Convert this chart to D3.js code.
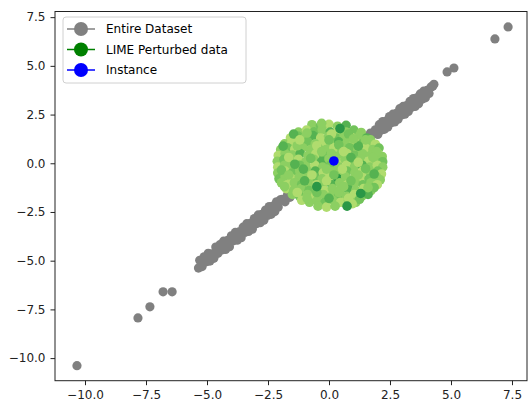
<!DOCTYPE html>
<html>
<head>
<meta charset="utf-8">
<script src="https://cdn.jsdelivr.net/npm/d3@7"></script>
<style>
  html, body { margin: 0; padding: 0; background: #fff; }
  svg { display: block; font-family: "DejaVu Sans", sans-serif; }
</style>
</head>
<body>
<svg id="chart" width="528" height="406"></svg>
<script>
// Axis ticks
const xTicks = [-10, -7.5, -5, -2.5, 0, 2.5, 5, 7.5];
const yTicks = [-10, -7.5, -5, -2.5, 0, 2.5, 5, 7.5];

// Legend entries
const seriesNames = ["Entire Dataset", "LIME Perturbed data", "Instance"];
const seriesColors = ["#808080", "#008000", "#0000ff"];

// Entire dataset: [x, y]
const datasetPoints = [
  [-10.33,-10.39],[-7.83,-7.94],[-7.34,-7.37],[-6.80,-6.60],[-6.43,-6.60],
  [-5.35,-5.38],[-5.30,-4.98],[-5.20,-5.30],[-5.12,-4.80],[-5.02,-5.05],[-4.95,-4.62],
  [-4.88,-5.02],[-4.80,-4.65],[-4.72,-4.88],[-4.64,-4.30],[-4.55,-4.62],[-4.47,-4.18],
  [-4.40,-4.45],[-4.32,-4.00],[-4.24,-4.42],[-4.15,-3.95],[-4.08,-4.28],[-4.00,-3.72],
  [-3.92,-3.98],[-3.84,-3.55],[-3.76,-3.95],[-3.68,-3.52],[-3.60,-3.82],[-3.52,-3.28],
  [-3.45,-3.55],[-3.37,-3.10],[-3.30,-3.50],[-3.22,-3.08],[-3.14,-3.38],[-3.06,-2.84],
  [-2.98,-3.10],[-2.90,-2.65],[-2.82,-3.05],[-2.75,-2.62],[-2.67,-2.92],[-2.60,-2.40],
  [-2.52,-2.68],[-2.45,-2.22],[-2.37,-2.62],[-2.30,-2.20],[-2.22,-2.48],[-2.15,-1.98],
  [-2.08,-2.25],[-2.00,-1.88],
  [-5.05,-4.95],[-4.60,-4.48],[-4.10,-4.05],[-3.70,-3.65],[-3.25,-3.25],[-2.80,-2.82],[-2.40,-2.42],
  [-1.92,-1.85],[-1.80,-1.98],[-1.70,-1.62],[-1.60,-1.75],[-1.50,-1.42],[-1.40,-1.55],
  [-1.30,-1.25],[-1.20,-1.32],[-1.10,-1.05],[-1.00,-1.15],[-0.90,-0.85],[-0.80,-0.95],
  [-0.70,-0.62],[-0.60,-0.75],[-0.50,-0.48],[-0.40,-0.55],[-0.30,-0.28],[-0.20,-0.35],
  [-0.10,-0.08],[0.00,-0.18],[0.10,0.05],[0.20,-0.05],[0.30,0.22],[0.40,0.15],
  [0.50,0.42],[0.60,0.35],[0.70,0.62],[0.80,0.55],[0.90,0.80],[1.00,0.75],
  [1.10,1.00],[1.20,0.95],[1.30,1.18],[1.40,1.12],[1.50,1.38],[1.60,1.32],
  [1.70,1.55],[1.80,1.50],[1.90,1.72],
  [2.00,1.48],[2.06,1.98],[2.13,1.70],[2.20,2.14],[2.27,1.74],[2.34,2.16],[2.41,1.86],
  [2.48,2.40],[2.55,2.08],[2.62,2.52],[2.69,2.12],[2.76,2.56],[2.83,2.26],[2.90,2.80],
  [2.97,2.48],[3.04,2.92],[3.11,2.52],[3.18,2.96],[3.25,2.66],[3.32,3.18],[3.39,2.88],
  [3.46,3.32],[3.53,2.92],[3.60,3.36],[3.67,3.06],[3.74,3.56],[3.81,3.28],[3.88,3.70],
  [3.95,3.36],[4.02,3.74],[4.10,3.58],[4.18,3.92],[4.25,3.95],[4.30,4.05],
  [2.30,1.98],[2.70,2.36],[3.10,2.75],[3.50,3.12],[3.90,3.50],
  [4.84,4.69],[5.12,4.89],[6.80,6.38],[7.34,7.00]
];

// Perturbed samples: [x, y, weight shade 0..4]
const perturbedPoints = [
  [-0.7,1.98,1],[-0.35,1.92,2],[0.0,2.0,0],[0.35,1.9,1],[0.7,1.95,3],
  [-1.25,1.6,1],[-0.92,1.7,0],[-0.6,1.62,2],[-0.28,1.72,1],[0.05,1.6,3],[0.38,1.68,0],[0.7,1.6,1],[1.02,1.7,2],[1.32,1.58,1],
  [-1.58,1.3,0],[-1.28,1.4,2],[-0.98,1.32,1],[-0.66,1.42,3],[-0.34,1.3,0],[-0.02,1.38,1],[0.3,1.3,2],[0.62,1.4,1],[0.94,1.32,0],[1.26,1.42,1],[1.55,1.3,3],[1.7,1.2,1],
  [-1.82,1.0,1],[-1.52,1.1,0],[-1.2,1.02,1],[-0.88,1.12,2],[-0.56,1.0,1],[-0.24,1.08,0],[0.08,1.0,1],[0.4,1.1,3],[0.72,1.02,1],[1.04,1.1,0],[1.36,1.0,2],[1.66,1.08,1],[1.9,0.98,0],
  [-1.98,0.7,1],[-1.7,0.8,2],[-1.4,0.72,0],[-1.08,0.8,1],[-0.76,0.7,1],[-0.44,0.78,2],[-0.12,0.7,1],[0.2,0.8,0],[0.52,0.72,1],[0.85,0.8,2],[1.18,0.7,1],[1.5,0.78,0],[1.8,0.7,1],[2.05,0.78,2],
  [-2.08,0.4,0],[-1.8,0.5,1],[-1.5,0.42,1],[-1.18,0.5,3],[-0.86,0.4,1],[-0.54,0.48,0],[-0.22,0.4,2],[0.1,0.5,1],[0.42,0.42,1],[0.74,0.5,0],[1.06,0.4,2],[1.38,0.48,1],[1.7,0.4,1],[2.0,0.5,0],[2.18,0.35,1],
  [-2.12,0.1,1],[-1.85,0.2,2],[-1.55,0.12,1],[-1.25,0.2,0],[-0.94,0.1,1],[-0.62,0.2,1],[-0.3,0.1,3],[0.0,0.22,1],[0.34,0.08,0],[0.66,0.2,1],[0.98,0.1,2],[1.3,0.2,1],[1.62,0.1,0],[1.92,0.2,1],[2.2,0.08,2],
  [-2.1,-0.2,0],[-1.82,-0.1,1],[-1.52,-0.2,1],[-1.2,-0.1,2],[-0.9,-0.2,1],[-0.58,-0.1,0],[-0.26,-0.2,1],[0.06,-0.1,2],[0.4,-0.2,1],[0.72,-0.1,0],[1.04,-0.2,1],[1.36,-0.1,3],[1.68,-0.2,1],[1.98,-0.1,0],[2.2,-0.2,1],
  [-2.1,-0.5,1],[-1.8,-0.4,0],[-1.5,-0.5,2],[-1.2,-0.4,1],[-0.88,-0.5,1],[-0.56,-0.4,3],[-0.24,-0.5,0],[0.1,-0.42,1],[0.42,-0.5,1],[0.74,-0.4,2],[1.06,-0.5,1],[1.38,-0.4,0],[1.7,-0.5,1],[2.0,-0.4,2],[2.15,-0.55,0],
  [-2.05,-0.8,2],[-1.8,-0.7,1],[-1.52,-0.8,0],[-1.22,-0.7,1],[-0.92,-0.8,1],[-0.6,-0.7,2],[-0.28,-0.8,1],[0.04,-0.7,0],[0.36,-0.8,4],[0.68,-0.7,1],[1.0,-0.8,1],[1.32,-0.7,0],[1.64,-0.8,2],[1.95,-0.7,1],[2.1,-0.85,1],
  [-1.95,-1.0,1],[-1.7,-1.1,0],[-1.42,-1.0,1],[-1.12,-1.1,2],[-0.82,-1.0,1],[-0.5,-1.1,0],[-0.2,-1.0,1],[0.12,-1.1,3],[0.44,-1.0,1],[0.76,-1.1,0],[1.08,-1.0,1],[1.4,-1.1,2],[1.72,-1.0,1],[1.98,-1.1,0],
  [-1.75,-1.3,0],[-1.45,-1.4,1],[-1.14,-1.3,1],[-0.82,-1.4,2],[-0.5,-1.3,1],[-0.18,-1.4,0],[0.14,-1.3,1],[0.46,-1.4,1],[0.78,-1.3,3],[1.1,-1.4,1],[1.42,-1.3,0],[1.72,-1.4,1],[1.85,-1.25,2],
  [-1.5,-1.6,1],[-1.2,-1.7,2],[-0.88,-1.6,1],[-0.56,-1.7,0],[-0.24,-1.6,1],[0.08,-1.7,1],[0.4,-1.6,2],[0.72,-1.7,1],[1.04,-1.6,0],[1.34,-1.7,1],[1.6,-1.6,3],
  [-1.12,-1.9,0],[-0.8,-2.0,1],[-0.48,-1.9,1],[-0.16,-2.0,2],[0.16,-1.9,1],[0.48,-2.0,0],[0.8,-1.9,1],[1.1,-2.0,1],[1.25,-1.85,2],
  [-0.45,-2.2,1],[-0.1,-2.25,0],[0.25,-2.2,1],
  [-1.45,1.5,3],[-0.9,1.55,1],[0.1,1.5,0],[0.8,1.5,2],[1.5,1.2,1],[-1.88,0.88,3],[-1.3,0.9,1],[-0.5,0.9,0],[0.4,0.95,2],[1.2,0.88,3],
  [1.95,0.6,1],[-1.65,0.3,0],[-0.75,0.25,2],[0.25,0.3,1],[0.9,0.3,3],[1.8,0.3,1],[-1.95,-0.35,2],[-1.05,-0.3,3],[-0.1,-0.3,1],[0.55,-0.3,0],
  [1.5,-0.28,2],[-1.65,-0.6,1],[-0.7,-0.6,0],[0.2,-0.6,2],[1.2,-0.6,1],[1.85,-0.55,3],[-1.82,-1.2,1],[-1.0,-0.9,3],[-0.1,-0.9,0],[0.9,-0.9,2],
  [1.6,-1.25,1],[-1.3,-1.5,0],[-0.5,-1.5,2],[0.4,-1.5,1],[1.3,-1.55,4],[-0.9,-1.8,1],[0.0,-1.8,3],[0.8,-1.8,0],[-0.3,2.05,1],[0.45,1.78,4],
  [-1.2,1.2,0],[0.0,1.2,2],[1.0,1.25,1],[-0.3,0.6,1],[0.6,0.6,0],[-1.4,-0.05,3],[1.2,0.05,0],[-0.5,-1.2,4],[0.6,-1.2,1],[0.95,-2.08,0],
  [0.74,-2.2,4]
];

// Shades used for the perturbed samples, light to dark
const perturbedShades = ["#b0dc6e", "#8ccf62", "#72c35a", "#55b251", "#2a9746"];

// The explained instance
const instancePoint = [[0.2, 0.12]];

const svg = d3.select("#chart");
const plot = { left: 55, right: 527, top: 11.5, bottom: 380.7 };

const x = d3.scaleLinear().domain([-11.23, 8.115]).range([plot.left, plot.right]);
const y = d3.scaleLinear().domain([-11.16, 7.79]).range([plot.bottom, plot.top]);

const fmt = v => d3.format(".1f")(v).replace("-", "\u2212");

// Points
svg.append("g").selectAll("circle").data(datasetPoints).join("circle")
  .attr("cx", d => x(d[0])).attr("cy", d => y(d[1])).attr("r", 4.6)
  .attr("fill", seriesColors[0]);

svg.append("g").selectAll("circle").data(perturbedPoints).join("circle")
  .attr("cx", d => x(d[0])).attr("cy", d => y(d[1])).attr("r", 4.8)
  .attr("fill", d => perturbedShades[d[2]]);

svg.append("g").selectAll("circle").data(instancePoint).join("circle")
  .attr("cx", d => x(d[0])).attr("cy", d => y(d[1])).attr("r", 4.8)
  .attr("fill", seriesColors[2]);

// Axes
const xAxis = svg.append("g").attr("transform", `translate(0,${plot.bottom})`)
  .call(d3.axisBottom(x).tickValues(xTicks).tickFormat(fmt).tickSize(4.5).tickPadding(5));
const yAxis = svg.append("g").attr("transform", `translate(${plot.left},0)`)
  .call(d3.axisLeft(y).tickValues(yTicks).tickFormat(fmt).tickSize(4.5).tickPadding(5));
[xAxis, yAxis].forEach(g => {
  g.select(".domain").remove();
  g.selectAll("line").attr("stroke", "#222").attr("stroke-width", 1);
  g.selectAll("text").attr("fill", "#222").style("font-size", "12px")
    .style("font-family", "'DejaVu Sans', sans-serif");
});

// Frame
svg.append("rect")
  .attr("x", plot.left).attr("y", plot.top)
  .attr("width", plot.right - plot.left).attr("height", plot.bottom - plot.top)
  .attr("fill", "none").attr("stroke", "#222").attr("stroke-width", 1);

// Legend
const legend = svg.append("g").attr("transform", "translate(63,17)");
legend.append("rect")
  .attr("width", 183).attr("height", 66).attr("rx", 3)
  .attr("fill", "#fff").attr("fill-opacity", 0.8)
  .attr("stroke", "#d0d0d0").attr("stroke-width", 1);
const rows = legend.selectAll("g.row").data(seriesNames).join("g")
  .attr("class", "row")
  .attr("transform", (d, i) => `translate(0,${12 + i * 20.5})`);
rows.append("line")
  .attr("x1", 4).attr("x2", 32).attr("y1", 0).attr("y2", 0)
  .attr("stroke", (d, i) => seriesColors[i]).attr("stroke-width", 1.5);
rows.append("circle")
  .attr("cx", 18).attr("cy", 0).attr("r", 7)
  .attr("fill", (d, i) => seriesColors[i]);
rows.append("text")
  .attr("x", 43).attr("y", 0).attr("dy", "0.35em")
  .style("font-size", "12px").attr("fill", "#000")
  .text(d => d);
</script>
</body>
</html>
